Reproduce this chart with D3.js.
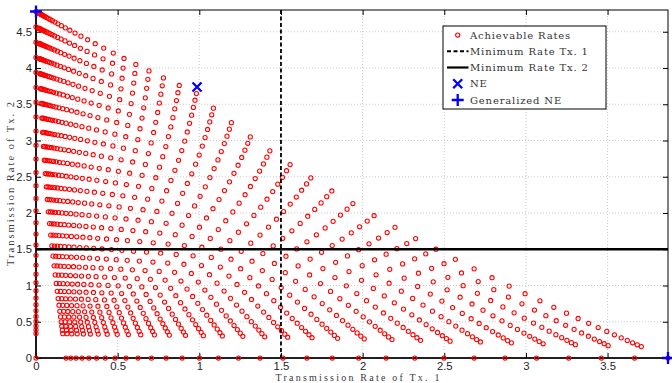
<!DOCTYPE html>
<html>
<head>
<meta charset="utf-8">
<script src="https://cdn.jsdelivr.net/npm/d3@7"></script>
<style>
  html, body { margin: 0; padding: 0; background: #fff; }
  svg { display: block; }
</style>
</head>
<body>
<svg id="chart" width="672" height="383"></svg>
<script>
// Rate of each transmitter when the other one is silent (read along the axes),
// one value per power level, lowest to highest.
var rate1Solo = [0.184, 0.213, 0.245, 0.282, 0.324, 0.371, 0.424, 0.484, 0.551, 0.625,
  0.707, 0.797, 0.895, 1.001, 1.117, 1.240, 1.372, 1.512, 1.659, 1.814, 1.976, 2.144,
  2.319, 2.498, 2.683, 2.872, 3.065, 3.262, 3.462, 3.665, 3.870];
var rate2Solo = [0.339, 0.388, 0.443, 0.505, 0.574, 0.651, 0.735, 0.828, 0.929, 1.038,
  1.156, 1.282, 1.417, 1.559, 1.709, 1.867, 2.031, 2.201, 2.377, 2.559, 2.745, 2.935,
  3.130, 3.327, 3.528, 3.732, 3.938, 4.146, 4.356, 4.567, 4.779];
// cross gains (estimated from the corners of the region)
var gain21 = 0.49;   // Tx. 2 -> Rx. 1
var gain12 = 0.095;  // Tx. 1 -> Rx. 2

var minRate1 = 1.5, minRate2 = 1.5;
var nePoint = [0.986, 3.738];
var gnePoints = [[0, 4.779], [3.870, 0]];

var xTicks = [0, 0.5, 1, 1.5, 2, 2.5, 3, 3.5];
var yTicks = [0, 0.5, 1, 1.5, 2, 2.5, 3, 3.5, 4, 4.5];
var xTitle = "Transmission Rate of Tx. 1";
var yTitle = "Transmission Rate of Tx. 2";
var legendLabels = ["Achievable Rates", "Minimum Rate Tx. 1", "Minimum Rate Tx. 2", "NE", "Generalized NE"];

(function () {
  "use strict";
  var svg = d3.select("#chart");
  var L = 36, R = 668, T = 10, B = 358;
  var x = d3.scaleLinear().domain([0, 3.87]).range([L, R]);
  var y = d3.scaleLinear().domain([0, 4.8]).range([B, T]);
  var RED = "#ff0000", BLUE = "#0000ff";

  svg.append("rect").attr("width", 672).attr("height", 383).attr("fill", "#fff");

  // grid
  var grid = svg.append("g").attr("stroke", "#bdbdbd").attr("stroke-width", 0.8)
    .attr("stroke-dasharray", "1,2");
  xTicks.slice(1).forEach(function (t) {
    grid.append("line").attr("x1", x(t)).attr("x2", x(t)).attr("y1", T).attr("y2", B);
  });
  yTicks.slice(1).forEach(function (t) {
    grid.append("line").attr("y1", y(t)).attr("y2", y(t)).attr("x1", L).attr("x2", R);
  });

  // axes (ticks inside, on all four sides)
  function fmt(d) { return String(d); }
  function style(g, labels) {
    g.select(".domain").remove();
    g.selectAll(".tick line").attr("stroke", "#000");
    g.selectAll(".tick text").attr("fill", "#262626")
      .style("font-family", "'Liberation Sans', Arial, sans-serif").style("font-size", "11.3px");
    if (!labels) g.selectAll(".tick text").remove();
  }
  svg.append("g").attr("transform", "translate(0," + B + ")")
    .call(d3.axisBottom(x).tickValues(xTicks).tickFormat(fmt).tickSize(-5).tickPadding(3.5))
    .call(style, true);
  svg.append("g").attr("transform", "translate(0," + T + ")")
    .call(d3.axisTop(x).tickValues(xTicks).tickSize(-5)).call(style, false);
  svg.append("g").attr("transform", "translate(" + L + ",0)")
    .call(d3.axisLeft(y).tickValues(yTicks).tickFormat(fmt).tickSize(-5).tickPadding(4))
    .call(style, true);
  svg.append("g").attr("transform", "translate(" + R + ",0)")
    .call(d3.axisRight(y).tickValues(yTicks).tickSize(-5)).call(style, false);

  svg.append("rect").attr("x", L).attr("y", T).attr("width", R - L).attr("height", B - T)
    .attr("fill", "none").attr("stroke", "#000").attr("stroke-width", 1);
  svg.append("line").attr("x1", L).attr("x2", L).attr("y1", T).attr("y2", B)
    .attr("stroke", "#000").attr("stroke-width", 1.6);
  svg.append("line").attr("x1", L).attr("x2", R).attr("y1", B).attr("y2", B)
    .attr("stroke", "#000").attr("stroke-width", 1.6);

  // achievable rate pairs over the power grid (0 plus every level)
  var snr1 = [0].concat(rate1Solo.map(function (r) { return Math.pow(2, r) - 1; }));
  var snr2 = [0].concat(rate2Solo.map(function (r) { return Math.pow(2, r) - 1; }));
  var rates = [];
  snr1.forEach(function (s1) {
    snr2.forEach(function (s2) {
      rates.push([Math.log2(1 + s1 / (1 + gain21 * s2)), Math.log2(1 + s2 / (1 + gain12 * s1))]);
    });
  });
  svg.append("g").selectAll("circle").data(rates).enter().append("circle")
    .attr("cx", function (d) { return x(d[0]); })
    .attr("cy", function (d) { return y(d[1]); })
    .attr("r", 2.1).attr("fill", "none").attr("stroke", RED).attr("stroke-width", 1.05);

  // minimum rate lines
  svg.append("line").attr("x1", x(minRate1)).attr("x2", x(minRate1)).attr("y1", T).attr("y2", B)
    .attr("stroke", "#000").attr("stroke-width", 1.8).attr("stroke-dasharray", "4,2.5");
  svg.append("line").attr("x1", L).attr("x2", R).attr("y1", y(minRate2)).attr("y2", y(minRate2))
    .attr("stroke", "#000").attr("stroke-width", 2.5);

  var crossPath = "M-4.5,-4.5L4.5,4.5M-4.5,4.5L4.5,-4.5";
  var plusPath = "M-6,0L6,0M0,-6L0,6";
  svg.append("path").attr("d", crossPath)
    .attr("transform", "translate(" + x(nePoint[0]) + "," + y(nePoint[1]) + ")")
    .attr("stroke", BLUE).attr("stroke-width", 2.3).attr("fill", "none");
  svg.append("g").selectAll("path").data(gnePoints).enter().append("path")
    .attr("d", plusPath)
    .attr("transform", function (d) { return "translate(" + x(d[0]) + "," + y(d[1]) + ")"; })
    .attr("stroke", BLUE).attr("stroke-width", 2.3).attr("fill", "none");

  // axis titles
  var serif = "'Liberation Serif', 'DejaVu Serif', serif";
  svg.append("text").attr("x", 357.5).attr("y", 380.6).attr("text-anchor", "middle")
    .attr("textLength", 164).attr("lengthAdjust", "spacing")
    .style("font-family", serif).style("font-size", "10px").attr("fill", "#3a3a3a").text(xTitle);
  svg.append("text").attr("transform", "translate(14,184) rotate(-90)").attr("text-anchor", "middle")
    .attr("textLength", 164).attr("lengthAdjust", "spacing")
    .style("font-family", serif).style("font-size", "10.5px").attr("fill", "#3a3a3a").text(yTitle);

  // legend
  var lg = svg.append("g");
  lg.append("rect").attr("x", 443).attr("y", 26).attr("width", 163).attr("height", 83)
    .attr("fill", "#fff").attr("stroke", "#000").attr("stroke-width", 1);
  var rowY = d3.scalePoint().domain(legendLabels).range([35, 100]);
  legendLabels.forEach(function (lab, i) {
    var cy = rowY(lab), cx = 457.7;
    if (i === 0) {
      lg.append("circle").attr("cx", cx).attr("cy", cy).attr("r", 2.1)
        .attr("fill", "none").attr("stroke", RED).attr("stroke-width", 1.05);
    } else if (i === 1 || i === 2) {
      lg.append("line").attr("x1", 447).attr("x2", 468.5).attr("y1", cy).attr("y2", cy)
        .attr("stroke", "#000").attr("stroke-width", i === 1 ? 1.8 : 2.2)
        .attr("stroke-dasharray", i === 1 ? "4,2.5" : null);
    } else {
      lg.append("path").attr("d", i === 3 ? crossPath : plusPath)
        .attr("transform", "translate(" + cx + "," + cy + ")")
        .attr("stroke", BLUE).attr("stroke-width", 2.3).attr("fill", "none");
    }
    lg.append("text").attr("x", 470).attr("y", cy + 3.6)
      .style("font-family", "'DejaVu Serif', serif").style("font-size", "10px")
      .style("letter-spacing", "0.85px").attr("fill", "#333").text(lab);
  });
})();
</script>
</body>
</html>
